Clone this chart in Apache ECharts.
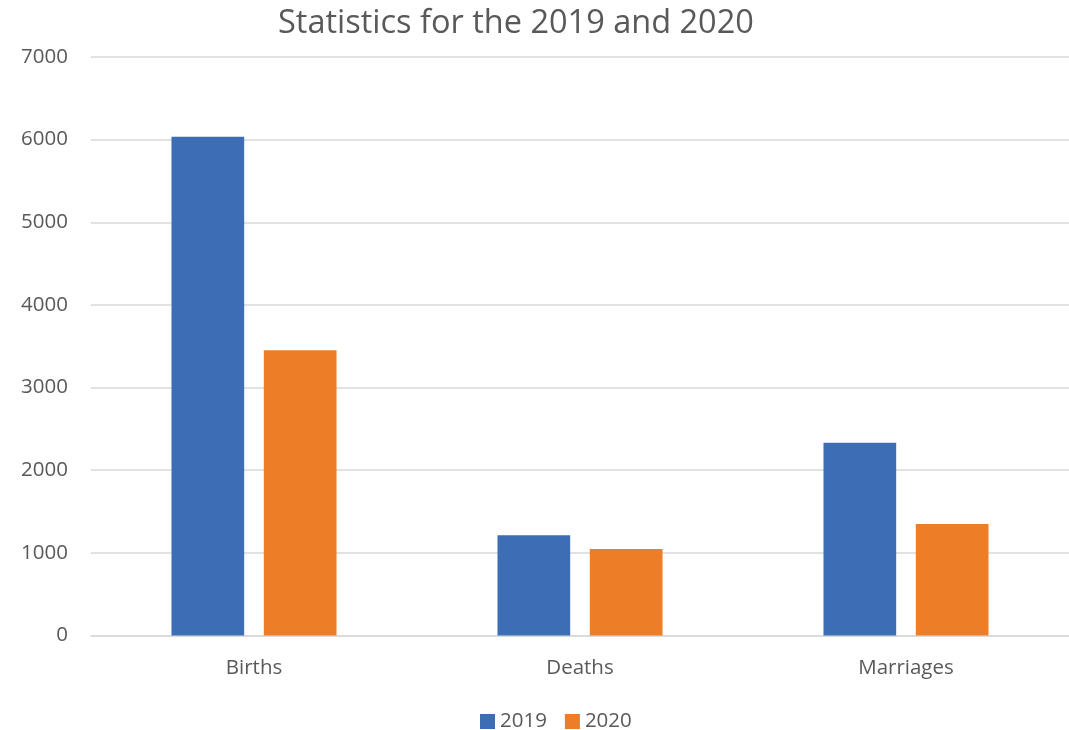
<!DOCTYPE html>
<html><head><meta charset="utf-8">
<script src="https://cdn.jsdelivr.net/npm/echarts@6/dist/echarts.min.js"></script>
<style>html,body{margin:0;padding:0;background:#fff}#c{width:1069px;height:730px}</style>
</head><body><div id="c"></div>
<script>
const categories = ["Births", "Deaths", "Marriages"];
const seriesNames = ["2019", "2020"];
const values2019 = [6035, 1212, 2333];
const values2020 = [3453, 1046, 1350];
const yTicks = { min: 0, max: 7000, interval: 1000 };

const chart = echarts.init(document.getElementById('c'));
const font = "'Open Sans', sans-serif";
const fs = 20.5;
chart.setOption({
  animation: false,
  title: { text: "Statistics for the 2019 and 2020", left: 273, top: 2,
    textStyle: { fontFamily: font, fontSize: 32.5, fontWeight: 'normal', color: '#595959' } },
  legend: { data: seriesNames, left: 475, top: 706, itemWidth: 15, itemHeight: 15, itemGap: 18,
    icon: 'rect', textStyle: { fontFamily: font, fontSize: fs, color: '#595959' } },
  grid: { left: 91, right: -5, top: 57, bottom: 94.5 },
  xAxis: { type: 'category', data: categories,
    axisLine: { lineStyle: { color: '#D9D9D9', width: 1.5 } }, axisTick: { show: false },
    axisLabel: { fontFamily: font, fontSize: fs, color: '#595959', margin: 22 } },
  yAxis: { type: 'value', min: yTicks.min, max: yTicks.max, interval: yTicks.interval,
    axisLine: { show: false }, axisTick: { show: false },
    splitLine: { lineStyle: { color: '#D9D9D9', width: 1.5 } },
    axisLabel: { fontFamily: font, fontSize: fs, color: '#595959', margin: 23,
      formatter: v => String(v) } },
  series: [
    { name: seriesNames[0], type: 'bar', data: values2019, barWidth: '22.3%', barGap: '27%',
      itemStyle: { color: '#3D6DB5' } },
    { name: seriesNames[1], type: 'bar', data: values2020, barWidth: '22.3%',
      itemStyle: { color: '#ED7D26' } }
  ]
});
</script></body></html>
